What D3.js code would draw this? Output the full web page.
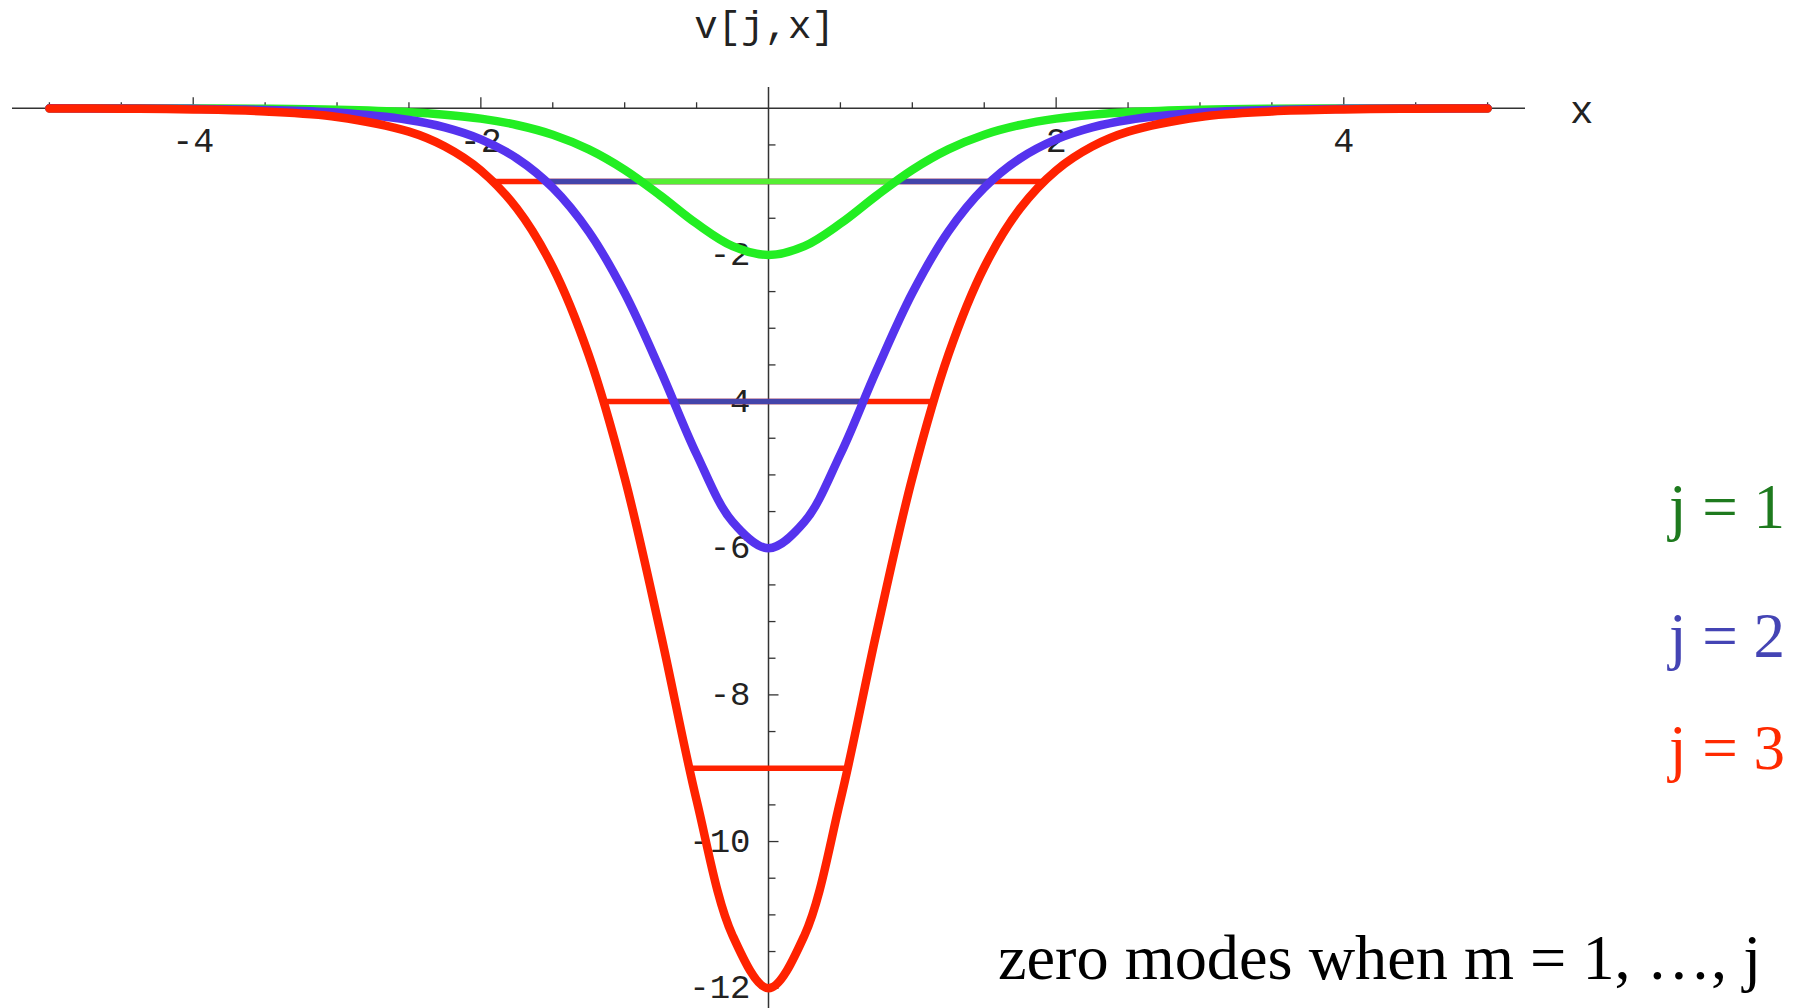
<!DOCTYPE html>
<html>
<head>
<meta charset="utf-8">
<script src="https://cdn.jsdelivr.net/npm/d3@7"></script>
<style>
  html, body { margin: 0; padding: 0; background: #fff; }
  svg { display: block; }
</style>
</head>
<body>
<svg id="chart" width="1807" height="1008"></svg>
<script>
// Sample abscissae shared by the three potentials
const xs = [-5, -4.5, -4, -3.5, -3, -2.5, -2.25, -2, -1.75, -1.5, -1.25, -1, -0.75, -0.5, -0.25,
            0, 0.25, 0.5, 0.75, 1, 1.25, 1.5, 1.75, 2, 2.25, 2.5, 3, 3.5, 4, 4.5, 5];

// v[1, x]
const v1 = [0.000, -0.001, -0.003, -0.007, -0.020, -0.053, -0.087, -0.141, -0.228, -0.361, -0.561, -0.840, -1.193, -1.573, -1.880,
            -2.000, -1.880, -1.573, -1.193, -0.840, -0.561, -0.361, -0.228, -0.141, -0.087, -0.053, -0.020, -0.007, -0.003, -0.001, 0.000];
// v[2, x]
const v2 = [-0.001, -0.003, -0.008, -0.022, -0.059, -0.160, -0.261, -0.424, -0.683, -1.084, -1.682, -2.520, -3.580, -4.718, -5.640,
            -6.000, -5.640, -4.718, -3.580, -2.520, -1.682, -1.084, -0.683, -0.424, -0.261, -0.160, -0.059, -0.022, -0.008, -0.003, -0.001];
// v[3, x]
const v3 = [-0.002, -0.006, -0.016, -0.044, -0.118, -0.319, -0.522, -0.848, -1.366, -2.168, -3.365, -5.040, -7.159, -9.437, -11.280,
            -12.000, -11.280, -9.437, -7.159, -5.040, -3.365, -2.168, -1.366, -0.848, -0.522, -0.319, -0.118, -0.044, -0.016, -0.006, -0.002];

// Bound-state levels: potential index, energy, half-width between turning points
const levelJ     = [3, 3, 3, 2, 2, 1];
const levelE     = [-1, -4, -9, -1, -4, -1];
const levelHalfW = [1.925, 1.146, 0.549, 1.567, 0.659, 0.881];

// Axis ticks
const xMajor = [-4, -2, 2, 4];
const yMajor = [-2, -4, -6, -8, -10, -12];

// Legend entries
const legendText = ["j = 1", "j = 2", "j = 3"];

const curveColor = {1: "#22ee22", 2: "#5533ee", 3: "#ff2200"};
const levelColor = {1: "#55ee33", 2: "#4444aa", 3: "#ff2200"};
const legendColor = ["#1e7a1e", "#4444b4", "#ff2a00"];

const svg = d3.select("#chart");

const x = d3.scaleLinear().domain([-5.26, 5.26]).range([12, 1525]);
const y = d3.scaleLinear().domain([-12.27, 0.29]).range([1008, 87]);

const axisColor = "#333";
const monoFont = "'Liberation Mono', 'DejaVu Sans Mono', monospace";
const serifFont = "'Liberation Serif', 'DejaVu Serif', serif";

// Horizontal axis (ticks point upward, labels beneath)
const xMinor = d3.range(-10, 11).map(d => d / 2).filter(d => d !== 0);
const gx = svg.append("g");
gx.append("line")
  .attr("x1", x.range()[0]).attr("x2", x.range()[1])
  .attr("y1", y(0)).attr("y2", y(0))
  .attr("stroke", axisColor).attr("stroke-width", 1.5);
gx.selectAll("line.tick").data(xMinor).join("line")
  .attr("class", "tick")
  .attr("x1", d => x(d)).attr("x2", d => x(d))
  .attr("y1", y(0))
  .attr("y2", d => y(0) - (xMajor.includes(d) ? 11 : 6))
  .attr("stroke", axisColor).attr("stroke-width", 1.3);
gx.selectAll("text").data(xMajor).join("text")
  .attr("x", d => x(d)).attr("y", y(0) + 44)
  .attr("text-anchor", "middle")
  .attr("font-family", monoFont).attr("font-size", 35)
  .attr("fill", "#222")
  .text(d => d < 0 ? "-" + Math.abs(d) : String(d));

// Vertical axis (ticks point right, labels to the left)
const yMinor = d3.range(-24, 1).map(d => d / 2).filter(d => d !== 0);
const gy = svg.append("g");
gy.append("line")
  .attr("x1", x(0)).attr("x2", x(0))
  .attr("y1", y.range()[1]).attr("y2", y.range()[0])
  .attr("stroke", axisColor).attr("stroke-width", 1.5);
gy.selectAll("line.tick").data(yMinor).join("line")
  .attr("class", "tick")
  .attr("x1", x(0))
  .attr("x2", d => x(0) + (yMajor.includes(d) ? 10 : 7))
  .attr("y1", d => y(d)).attr("y2", d => y(d))
  .attr("stroke", axisColor).attr("stroke-width", 1.3);
gy.selectAll("text").data(yMajor).join("text")
  .attr("x", x(0) - 18).attr("y", d => y(d))
  .attr("dy", "0.3em")
  .attr("text-anchor", "end")
  .attr("font-family", monoFont).attr("font-size", 34)
  .attr("fill", "#222")
  .text(d => "-" + Math.abs(d));

// Axis titles
svg.append("text")
  .attr("x", x(0) - 4).attr("y", 38)
  .attr("text-anchor", "middle")
  .attr("font-family", monoFont).attr("font-size", 39)
  .attr("fill", "#222")
  .text("v[j,x]");
svg.append("text")
  .attr("x", 1570).attr("y", 123)
  .attr("font-family", monoFont).attr("font-size", 39)
  .attr("fill", "#222")
  .text("x");

// Energy levels, drawn widest potential first so narrower ones sit on top
const levels = levelJ.map((j, i) => ({j, e: levelE[i], w: levelHalfW[i]}));
svg.append("g").selectAll("line").data(levels).join("line")
  .attr("x1", d => x(-d.w)).attr("x2", d => x(d.w))
  .attr("y1", d => y(d.e)).attr("y2", d => y(d.e))
  .attr("stroke", d => levelColor[d.j])
  .attr("stroke-width", 5.5);

// Potential curves
const series = [
  {j: 1, values: v1},
  {j: 2, values: v2},
  {j: 3, values: v3}
];
const line = d3.line()
  .x((d, i) => x(xs[i]))
  .y(d => y(d))
  .curve(d3.curveCatmullRom.alpha(0.5));
svg.append("g").selectAll("path").data(series).join("path")
  .attr("d", d => line(d.values))
  .attr("fill", "none")
  .attr("stroke", d => curveColor[d.j])
  .attr("stroke-width", 8.5)
  .attr("stroke-linecap", "round")
  .attr("stroke-linejoin", "round");

// Legend
svg.append("g").selectAll("text").data(legendText).join("text")
  .attr("x", 1669)
  .attr("y", (d, i) => [528, 657, 769][i])
  .attr("font-family", serifFont).attr("font-size", 63)
  .attr("fill", (d, i) => legendColor[i])
  .text(d => d);

// Caption
svg.append("text")
  .attr("x", 998).attr("y", 979)
  .attr("font-family", serifFont).attr("font-size", 64.3)
  .attr("fill", "#000")
  .text("zero modes when m = 1, \u2026, j");
</script>
</body>
</html>
